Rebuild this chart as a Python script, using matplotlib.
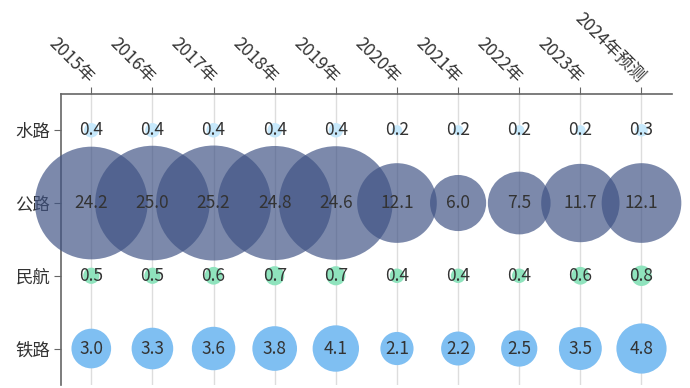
import numpy as np
import matplotlib.pyplot as plt

plt.rcParams['font.family'] = ['Noto Sans CJK SC', 'DejaVu Sans']

### Data
years = ['2015年', '2016年', '2017年', '2018年', '2019年',
         '2020年', '2021年', '2022年', '2023年', '2024年预测']
modes = ['水路', '公路', '民航', '铁路']  # top to bottom

water   = [0.4, 0.4, 0.4, 0.4, 0.4, 0.2, 0.2, 0.2, 0.2, 0.3]
road    = [24.2, 25.0, 25.2, 24.8, 24.6, 12.1, 6.0, 7.5, 11.7, 12.1]
air     = [0.5, 0.5, 0.6, 0.7, 0.7, 0.4, 0.4, 0.4, 0.6, 0.8]
rail    = [3.0, 3.3, 3.6, 3.8, 4.1, 2.1, 2.2, 2.5, 3.5, 4.8]

series = [water, road, air, rail]
colors = ['#c6e8fb', '#3e5284', '#8fe3bd', '#7fbff2']
alphas = [1.0, 0.68, 1.0, 1.0]

### Plot
fig = plt.figure(figsize=(6.9, 3.88), dpi=100)
ax = fig.add_axes([0.088, 0.008, 0.886, 0.75])

x = np.arange(len(years))
for row, (vals, c, a) in enumerate(zip(series, colors, alphas)):
    y = np.full(len(years), row)
    # bubble area proportional to value
    ax.scatter(x, y, s=np.array(vals) * 272, color=c, alpha=a,
               edgecolors='none', zorder=3, clip_on=False)
    for xi, v in zip(x, vals):
        ax.text(xi, row, f'{v:.1f}', ha='center', va='center',
                fontsize=12.5, color='#333333', zorder=4)

ax.set_xlim(-0.5, 9.5)
ax.set_ylim(3.5, -0.5)

# vertical grid lines
for xi in x:
    ax.axvline(xi, color='#dddddd', linewidth=1, zorder=0)

ax.xaxis.tick_top()
ax.set_xticks(x)
ax.set_xticklabels(years, rotation=-45, ha='right', va='center',
                   rotation_mode='anchor', fontsize=12.5, color='#333333')
ax.set_yticks(range(len(modes)))
ax.set_yticklabels(modes, fontsize=12.5, color='#333333')
ax.tick_params(axis='x', length=5, color='#666666', pad=5)
ax.tick_params(axis='y', length=5, color='#666666', pad=2.5)

for side in ['right', 'bottom']:
    ax.spines[side].set_visible(False)
for side in ['left', 'top']:
    ax.spines[side].set_color('#666666')
    ax.spines[side].set_linewidth(1.2)

plt.savefig('out.png', dpi=100)
